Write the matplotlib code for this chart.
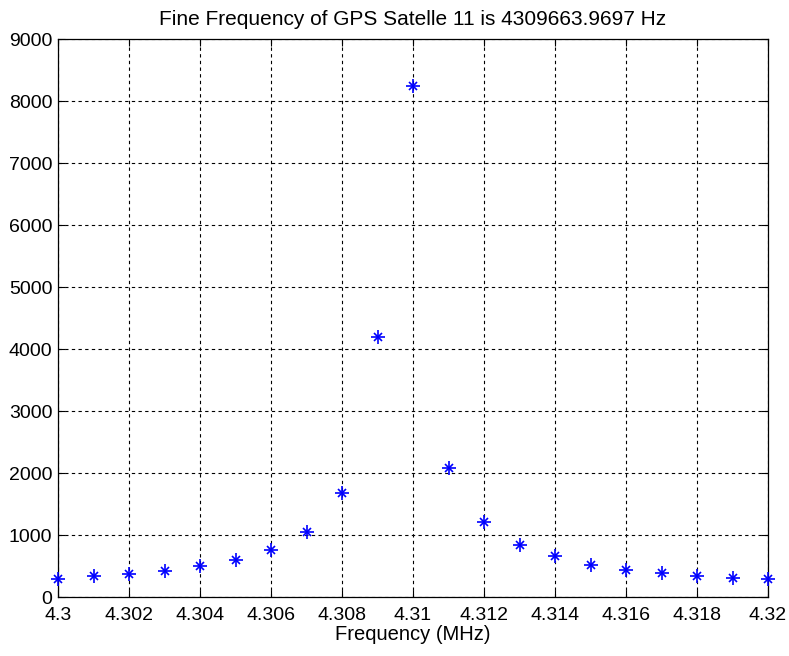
import matplotlib
matplotlib.use("Agg")
import matplotlib.pyplot as plt
import numpy as np

freq_mhz = [4.300, 4.301, 4.302, 4.303, 4.304, 4.305, 4.306, 4.307, 4.308, 4.309, 4.310,
            4.311, 4.312, 4.313, 4.314, 4.315, 4.316, 4.317, 4.318, 4.319, 4.320]
power = [285, 333, 366, 419, 495, 602, 763, 1043, 1677, 4194, 8242,
         2080, 1205, 839, 656, 516, 440, 387, 333, 312, 285]
xticks = [4.3, 4.302, 4.304, 4.306, 4.308, 4.31, 4.312, 4.314, 4.316, 4.318, 4.32]
xtick_labels = ["4.3", "4.302", "4.304", "4.306", "4.308", "4.31", "4.312", "4.314", "4.316", "4.318", "4.32"]
yticks = [0, 1000, 2000, 3000, 4000, 5000, 6000, 7000, 8000, 9000]

plt.rcParams['font.family'] = ['Liberation Sans', 'DejaVu Sans']
fig = plt.figure(figsize=(7.89, 6.56), dpi=100)
ax = fig.add_axes([58/789, 59/656, 710/789, 558/656])
ax.plot(freq_mhz, power, linestyle='none', marker='+', color='#0000ff',
        markersize=10, markeredgewidth=1.2, clip_on=False, zorder=3)
ax.plot(freq_mhz, power, linestyle='none', marker='x', color='#0000ff',
        markersize=6, markeredgewidth=1.2, clip_on=False, zorder=3)
ax.set_xlim(4.3, 4.32)
ax.set_ylim(0, 9000)
ax.set_xticks(xticks)
ax.set_xticklabels(xtick_labels)
ax.set_yticks(yticks)
ax.grid(True, color='black', linestyle=(0, (3, 3)), linewidth=0.8)
ax.tick_params(direction='in', top=True, right=True, length=5, labelsize=14, width=0.8)
ax.tick_params(axis='x', pad=7)
ax.tick_params(axis='y', pad=4)
for s in ax.spines.values():
    s.set_linewidth(0.9)
ax.set_xlabel("Frequency (MHz)", fontsize=14.5, labelpad=1)
ax.set_title("Fine Frequency of GPS Satelle 11 is 4309663.9697 Hz", fontsize=15, pad=10)
fig.savefig("out.png", dpi=100)
